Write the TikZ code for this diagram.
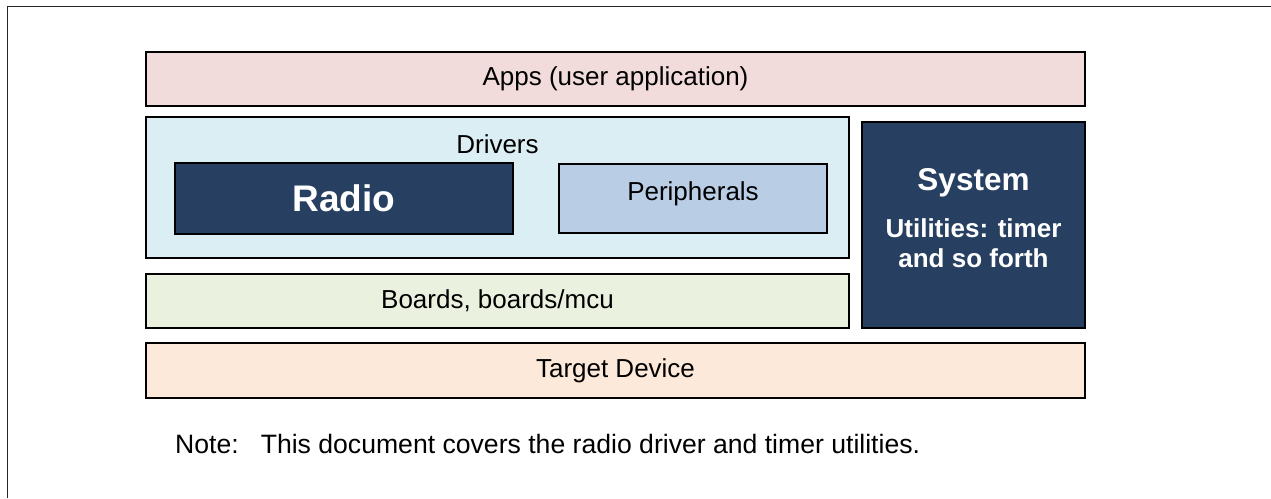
\documentclass[tikz,border=0pt]{standalone}
\usepackage{fontspec}
\setmainfont{Liberation Sans}
\usetikzlibrary{positioning}
\definecolor{appsfill}{HTML}{F2DCDB}
\definecolor{driverfill}{HTML}{DBEEF4}
\definecolor{navy}{HTML}{274062}
\definecolor{periphfill}{HTML}{B9CDE5}
\definecolor{boardfill}{HTML}{EBF1DF}
\definecolor{targetfill}{HTML}{FDE9D9}
\tikzset{
    layer/.style={rectangle,draw=black,line width=1.3pt,outer sep=0pt,inner sep=0pt,font=\fontsize{26}{30}\selectfont},
    dark/.style={layer,fill=navy,text=white,font=\bfseries\fontsize{37}{40}\selectfont},
    caption/.style={inner sep=0pt,font=\fontsize{26}{30}\selectfont},
    frame/.style={line width=1pt,draw=black!85}
}

\begin{document}
\begin{tikzpicture}[x=1pt,y=1pt]

                \useasboundingbox (0,0) rectangle (1271,-498);
                \draw[frame] (1271,-6) -- (7,-6) -- (7,-498);

                \node[layer,fill=appsfill]   (apps)    [minimum width=939pt,minimum height=54pt] at (615.5,-79) {Apps (user application)};
                \node[layer,fill=driverfill] (drivers) [below=11pt of apps.south west,anchor=north west,minimum width=703pt,minimum height=141pt] {};
                \node[caption]               (drivers title) [anchor=base] at ([yshift=-36pt]drivers.north) {Drivers};

                \node[dark]                  (radio)   [anchor=north west,minimum width=338pt,minimum height=71pt] at ([shift={(29pt,-46pt)}]drivers.north west) {Radio};
                \node[layer,fill=periphfill] (periph)  [right=46pt of radio,minimum width=268pt,minimum height=69pt] {};
                \node[caption]               (periph title) [anchor=base] at ([yshift=-36pt]periph.north) {Peripherals};

                \node[layer,fill=boardfill]  (boards)  [below=16pt of drivers.south west,anchor=north west,minimum width=703pt,minimum height=54pt] {Boards, boards/mcu};
                \node[layer,fill=targetfill] (target)  [below=15pt of boards.south west,anchor=north west,minimum width=939pt,minimum height=55pt] {Target Device};

                \node[dark]                  (system)  [below=16pt of apps.south east,anchor=north east,minimum width=223pt,minimum height=206pt] {};
                \node[caption,text=white]    (system title) [anchor=base,font=\bfseries\fontsize{31.5}{34}\selectfont] at ([yshift=-68pt]system.north) {System};
                \node[caption,text=white]    (utils 1) [anchor=base,font=\bfseries\fontsize{26}{30}\selectfont] at ([yshift=-115pt]system.north) {Utilities: timer};
                \node[caption,text=white]    (utils 2) [anchor=base,font=\bfseries\fontsize{26}{30}\selectfont] at ([yshift=-145pt]system.north) {and so forth};

                % note below the stack
                \node[caption]               (note)    [anchor=base west,font=\fontsize{26.6}{30}\selectfont] at (175,-453) {Note:\hspace{22pt}This document covers the radio driver and timer utilities.};

            \end{tikzpicture}
\end{document}
